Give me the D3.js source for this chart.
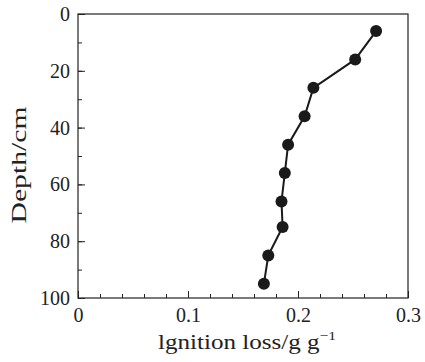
<!DOCTYPE html>
<html>
<head>
<meta charset="utf-8">
<script src="https://cdn.jsdelivr.net/npm/d3@7"></script>
<style>
  body { margin: 0; background: #fff; }
</style>
</head>
<body>
<script>
var margin = {top: 14, right: 17, bottom: 64, left: 78},
    width = 425 - margin.left - margin.right,
    height = 362 - margin.top - margin.bottom;

var serif = "'Liberation Serif', 'Times New Roman', serif";

// depth (cm) and ignition loss (g/g)
var depth = [6, 16, 26, 36, 46, 56, 66, 75, 85, 95];
var ignitionLoss = [0.271, 0.252, 0.214, 0.206, 0.191, 0.188, 0.185, 0.186, 0.173, 0.169];
var xTicks = [0, 0.1, 0.2, 0.3];
var yTicks = [0, 20, 40, 60, 80, 100];

var points = depth.map(function(d, i) { return {x: ignitionLoss[i], y: d}; });

var x = d3.scaleLinear().domain([0, 0.3]).range([0, width]);
var y = d3.scaleLinear().domain([0, 100]).range([0, height]);

var svg = d3.select("body").append("svg")
    .attr("width", 425)
    .attr("height", 362)
  .append("g")
    .attr("transform", "translate(" + margin.left + "," + margin.top + ")");

// frame
svg.append("rect")
    .attr("width", width)
    .attr("height", height)
    .attr("fill", "none")
    .attr("stroke", "#222")
    .attr("stroke-width", 1.2);

// minor ticks (inward)
svg.append("g")
    .attr("transform", "translate(0," + height + ")")
    .call(d3.axisTop(x).tickValues(d3.range(0, 0.3001, 0.02)).tickSize(4).tickFormat(""))
    .call(function(g) { g.select(".domain").remove(); });
svg.append("g")
    .call(d3.axisRight(y).tickValues(d3.range(0, 100.1, 10)).tickSize(4).tickFormat(""))
    .call(function(g) { g.select(".domain").remove(); });

// major ticks (inward) and labels
var xAxis = svg.append("g")
    .attr("transform", "translate(0," + height + ")")
    .call(d3.axisTop(x).tickValues(xTicks).tickSize(7).tickFormat(d3.format("")));
xAxis.select(".domain").remove();
xAxis.selectAll("text")
    .attr("y", 24)
    .attr("dy", 0);

var yAxis = svg.append("g")
    .call(d3.axisRight(y).tickValues(yTicks).tickSize(7));
yAxis.select(".domain").remove();
yAxis.selectAll("text")
    .attr("x", -8)
    .attr("text-anchor", "end");

svg.selectAll(".tick line").attr("stroke", "#222").attr("stroke-width", 1);

// line + markers
svg.append("path")
    .datum(points)
    .attr("fill", "none")
    .attr("stroke", "#1a1a1a")
    .attr("stroke-width", 2)
    .attr("d", d3.line().x(function(d) { return x(d.x); }).y(function(d) { return y(d.y); }));

svg.selectAll("circle")
    .data(points)
    .enter()
    .append("circle")
    .attr("cx", function(d) { return x(d.x); })
    .attr("cy", function(d) { return y(d.y); })
    .attr("r", 6)
    .attr("fill", "#1a1a1a");

// axis titles
var xl = svg.append("text")
    .attr("x", 80)
    .attr("y", height + 51)
    .attr("textLength", 178)
    .attr("lengthAdjust", "spacingAndGlyphs")
    .style("font-size", "21px");
xl.append("tspan").text("lgnition loss/g g");
xl.append("tspan").attr("dy", -9).style("font-size", "13px").text("\u22121");

svg.append("text")
    .attr("transform", "rotate(-90)")
    .attr("x", -151)
    .attr("y", -52)
    .attr("text-anchor", "middle")
    .attr("textLength", 117)
    .attr("lengthAdjust", "spacingAndGlyphs")
    .style("font-size", "21px")
    .text("Depth/cm");

svg.selectAll("text")
    .attr("font-family", null)
    .style("font-family", serif)
    .style("fill", "#222");
svg.selectAll("text").filter(function() { return !this.style.fontSize; })
    .style("font-size", "20px");
svg.selectAll("g").attr("font-family", null);
</script>
</body>
</html>
